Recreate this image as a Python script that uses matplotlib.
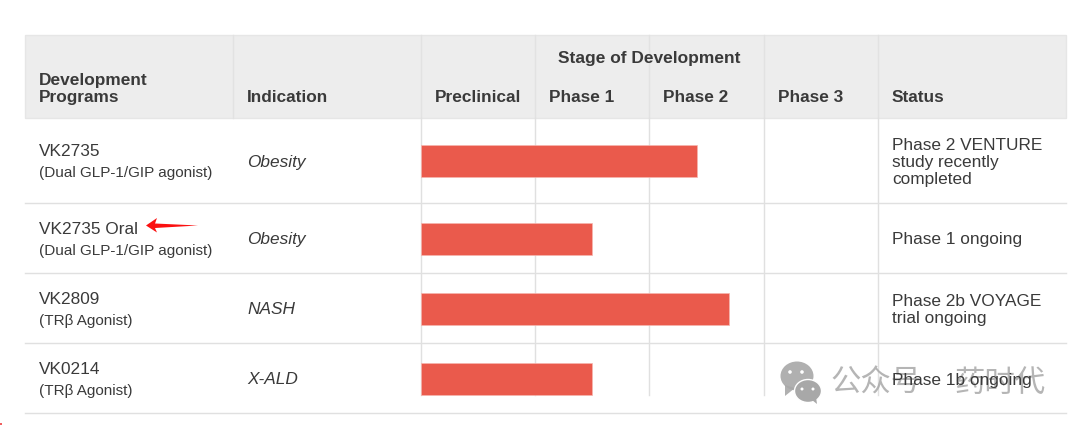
import matplotlib
matplotlib.use("Agg")
import matplotlib.pyplot as plt
from matplotlib.patches import Ellipse, Polygon, Rectangle

# ---- data ----
programs = ["VK2735", "VK2735 Oral", "VK2809", "VK0214"]
mechanisms = ["(Dual GLP-1/GIP agonist)", "(Dual GLP-1/GIP agonist)", "(TRβ Agonist)", "(TRβ Agonist)"]
indications = ["Obesity", "Obesity", "NASH", "X-ALD"]
stage_reached = [2.42, 1.50, 2.70, 1.50]   # in stage columns (0 = start of Preclinical)
status = [["Phase 2 VENTURE", "study recently", "completed"],
          ["Phase 1 ongoing"],
          ["Phase 2b VOYAGE", "trial ongoing"],
          ["Phase 1b ongoing"]]
stages = ["Preclinical", "Phase 1", "Phase 2", "Phase 3"]

# ---- layout (pixels) ----
W, H = 1080, 425
row_center = [161, 239, 309, 379]
row_rules = [203, 273, 343, 413]
prog_base = [[156, 177], [234, 255], [304, 325], [374, 395]]
ind_base = [167, 244, 314.5, 384.5]
status_base = [[150, 167.5, 184], [244], [305.5, 323], [384.5]]
stage_x = [420.8, 535, 649, 763.5, 877.5]

TXT = "#3a3a3a"
LINE = "#e0e0e0"
sans = "Liberation Sans"

fig = plt.figure(figsize=(W / 100, H / 100), dpi=100, facecolor="white")
bg = fig.add_axes([0, 0, 1, 1])
bg.set_xlim(0, W); bg.set_ylim(H, 0); bg.axis("off")

# header band
bg.add_patch(Rectangle((25, 35), 1041, 83, fc="#ededed", ec="#e6e6e6", lw=1, zorder=1))
for x in [233] + stage_x:
    bg.plot([x, x], [35, 118], color="#e2e2e2", lw=1, zorder=2)
for x in stage_x:
    bg.plot([x, x], [118, 395], color=LINE, lw=1, zorder=2)
for y in row_rules:
    bg.plot([25, 1066], [y, y], color=LINE, lw=1, zorder=2)

# bars on a stage scale
ax = fig.add_axes([stage_x[0] / W, 0, (stage_x[-1] - stage_x[0]) / W, 1])
ax.set_xlim(0, 4); ax.set_ylim(H, 0); ax.axis("off"); ax.patch.set_alpha(0)
ax.barh(row_center, stage_reached, height=32, color="#ea5a4c", edgecolor="#f6b5ae", linewidth=0.5, zorder=3)

txt = fig.add_axes([0, 0, 1, 1])
txt.set_xlim(0, W); txt.set_ylim(H, 0); txt.axis("off"); txt.patch.set_alpha(0)

def t(x, y, s, size, **kw):
    kw.setdefault("color", TXT)
    kw.setdefault("family", sans)
    kw.setdefault("zorder", 7)
    txt.text(x, y, s, fontsize=size, va="baseline", ha=kw.pop("ha", "left"), **kw)

HS = 12.45
t(39, 84.5, "Development", HS, weight="bold")
t(39, 102, "Programs", HS, weight="bold")
t(247, 102, "Indication", HS, weight="bold")
t(892, 102, "Status", HS, weight="bold")
t(557.5, 62.5, "Stage of Development", 12.5, weight="bold")
for x, s in zip([434.5, 549, 663, 778], stages):
    t(x, 102, s, HS, weight="bold")

for i in range(4):
    t(39, prog_base[i][0], programs[i], 12.4)
    t(39, prog_base[i][1], mechanisms[i], 11.0)
    t(247.5, ind_base[i], indications[i], 12.4, style="italic")
    for y, s in zip(status_base[i], status[i]):
        t(892, y, s, 12.45)

# red hand-drawn arrow
txt.add_patch(Polygon([(146, 225.5), (157, 218), (155, 223.5), (198, 225.5),
                       (155, 228), (157, 232.5)], closed=True, fc="#fb1010", ec="none", zorder=6))
txt.add_patch(Rectangle((0, 423), 2, 2, fc="#f06060", ec="none"))

# watermark
G = "#a8a8a8"
txt.add_patch(Ellipse((797, 376), 33, 29, fc=G, ec="none", alpha=.9, zorder=5))
txt.add_patch(Polygon([(785, 385), (785, 396), (795, 388)], fc=G, ec="none", alpha=.9, zorder=5))
txt.add_patch(Ellipse((808, 391), 27, 23, fc=G, ec="white", lw=1, zorder=5))
txt.add_patch(Polygon([(812, 400), (817, 404), (816, 397)], fc=G, ec="none", zorder=5))
for (x, y, r) in [(790, 372, 3.6), (802, 372, 3.6), (802, 389, 3), (813, 389, 3)]:
    txt.add_patch(Ellipse((x, y), r, r, fc="white", ec="none", zorder=6))
t(830, 391.5, "公众号", 21.9, color=G, family="Noto Sans CJK SC", alpha=.85, zorder=4)
t(954, 391.5, "药时代", 21.9, color=G, family="Noto Sans CJK SC", alpha=.85, zorder=4)

fig.savefig("out.png", dpi=100)
